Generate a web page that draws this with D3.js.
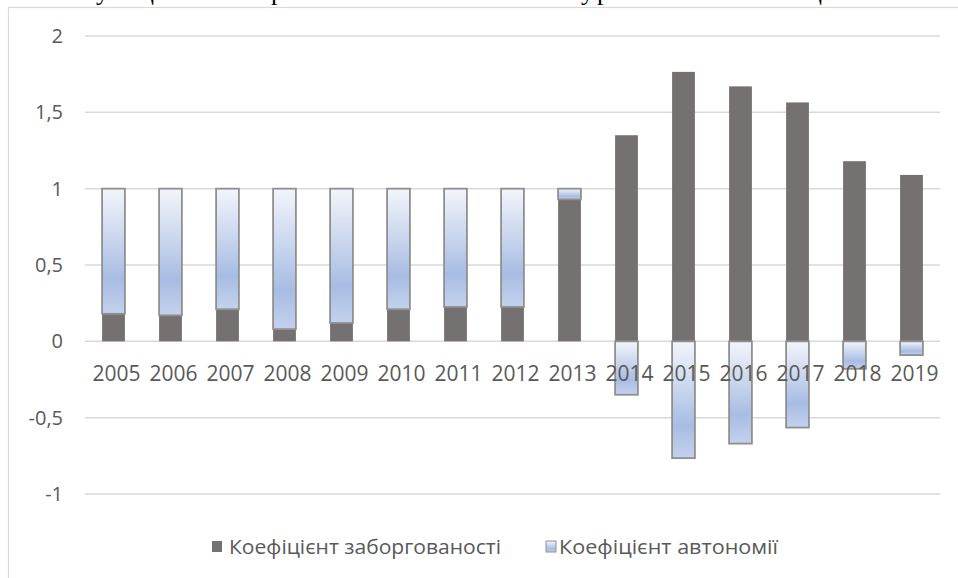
<!DOCTYPE html>
<html>
<head>
<meta charset="utf-8">
<script src="https://cdn.jsdelivr.net/npm/d3@7"></script>
<style>
  body { margin: 0; background: #fff; }
  svg { display: block; }
</style>
</head>
<body>
<script>
// chart data
var years = ["2005","2006","2007","2008","2009","2010","2011","2012","2013","2014","2015","2016","2017","2018","2019"];
var debtRatio = [0.18, 0.17, 0.21, 0.08, 0.12, 0.21, 0.225, 0.225, 0.93, 1.35, 1.765, 1.67, 1.565, 1.18, 1.09];
var autonomyRatio = [0.82, 0.83, 0.79, 0.92, 0.88, 0.79, 0.775, 0.775, 0.07, -0.35, -0.765, -0.67, -0.565, -0.18, -0.09];
var seriesNames = ["Коефіцієнт заборгованості", "Коефіцієнт автономії"];
var yTicks = [-1, -0.5, 0, 0.5, 1, 1.5, 2];

var W = 958, H = 578;
var margin = {top: 36, right: 18, bottom: 84, left: 85},
    width = W - margin.left - margin.right,
    height = 458;

var svg = d3.select("body").append("svg")
    .attr("width", W)
    .attr("height", H);

// clipped heading line from the page above the chart
var headGlyphs = [["у", 96], ["ц", 140], ["р", 271], ["у", 581], ["р", 597], ["ц", 808]];
svg.selectAll("text.head")
  .data(headGlyphs)
  .enter().append("text")
    .attr("class", "head")
    .attr("x", function(d) { return d[1]; })
    .attr("y", 0)
    .style("font-family", "Liberation Serif")
    .style("font-size", "26px")
    .style("fill", "#000")
    .text(function(d) { return d[0]; });

// chart frame
svg.append("rect")
    .attr("x", 8.5).attr("y", 7.5)
    .attr("width", W + 20).attr("height", H + 20)
    .style("fill", "#fff")
    .style("stroke", "#d9d9d9")
    .style("stroke-width", 1.2);

var defs = svg.append("defs");
var grad = defs.append("linearGradient")
    .attr("id", "autoGrad")
    .attr("x1", 0).attr("y1", 0).attr("x2", 0).attr("y2", 1);
grad.append("stop").attr("offset", "0%").attr("stop-color", "#f3f5fb");
grad.append("stop").attr("offset", "72%").attr("stop-color", "#a8bde3");
grad.append("stop").attr("offset", "100%").attr("stop-color", "#c3d1ed");

var g = svg.append("g")
    .attr("transform", "translate(" + margin.left + "," + margin.top + ")");

// scales
var x = d3.scaleBand().domain(years).range([0, width]).paddingInner(0.6).paddingOuter(0.3);
var y = d3.scaleLinear().domain([-1, 2]).range([height, 0]);

// gridlines
g.selectAll("line.grid")
  .data(yTicks)
  .enter().append("line")
    .attr("class", "grid")
    .attr("x1", 0).attr("x2", width)
    .attr("y1", function(d) { return y(d); })
    .attr("y2", function(d) { return y(d); })
    .style("stroke", "#d9d9d9")
    .style("stroke-width", 1.5);

// y axis labels
var fmt = function(d) { return String(d).replace(".", ","); };
var yAxis = g.append("g")
    .call(d3.axisLeft(y).tickValues(yTicks).tickFormat(fmt).tickSize(0).tickPadding(22));
yAxis.select(".domain").remove();
yAxis.selectAll("text")
    .style("font-family", "Open Sans")
    .style("font-size", "20px")
    .style("fill", "#595959");

// stacked data
var rows = years.map(function(yr, i) {
  return {year: yr, debt: debtRatio[i], auto: autonomyRatio[i]};
});
var stack = d3.stack().keys(["debt", "auto"]).offset(d3.stackOffsetDiverging);
var layers = stack(rows);

// debt bars
g.selectAll("rect.debt")
  .data(layers[0])
  .enter().append("rect")
    .attr("class", "debt")
    .attr("x", function(d) { return x(d.data.year); })
    .attr("width", x.bandwidth())
    .attr("y", function(d) { return y(d[1]); })
    .attr("height", function(d) { return y(d[0]) - y(d[1]); })
    .style("fill", "#767171");

// autonomy bars
g.selectAll("rect.auto")
  .data(layers[1])
  .enter().append("rect")
    .attr("class", "auto")
    .attr("x", function(d) { return x(d.data.year); })
    .attr("width", x.bandwidth())
    .attr("y", function(d) { return y(Math.max(d[0], d[1])); })
    .attr("height", function(d) { return Math.abs(y(d[0]) - y(d[1])); })
    .style("fill", "url(#autoGrad)")
    .style("stroke", "#8f8f8f")
    .style("stroke-width", 1.8);

// x axis labels at zero line
var xAxis = g.append("g")
    .attr("transform", "translate(0," + y(0) + ")")
    .call(d3.axisBottom(x).tickSize(0).tickPadding(25));
xAxis.select(".domain").remove();
xAxis.selectAll("text")
    .attr("dx", 3)
    .style("font-family", "Open Sans")
    .style("font-size", "21px")
    .style("fill", "#595959");

// legend
var legend = [
  {name: seriesNames[0], sx: 212, tx: 229, tw: 272, fill: "#767171", stroke: "none"},
  {name: seriesNames[1], sx: 546, tx: 559, tw: 219, fill: "url(#autoGrad)", stroke: "#8f8f8f"}
];
var lg = svg.append("g");
lg.selectAll("rect")
  .data(legend)
  .enter().append("rect")
    .attr("x", function(d) { return d.sx; })
    .attr("y", 541)
    .attr("width", 10).attr("height", 11)
    .style("fill", function(d) { return d.fill; })
    .style("stroke", function(d) { return d.stroke; })
    .style("stroke-width", 1);
lg.selectAll("text")
  .data(legend)
  .enter().append("text")
    .attr("x", function(d) { return d.tx; })
    .attr("y", 554)
    .attr("textLength", function(d) { return d.tw; })
    .attr("lengthAdjust", "spacingAndGlyphs")
    .style("font-family", "Open Sans")
    .style("font-size", "20px")
    .style("fill", "#595959")
    .text(function(d) { return d.name; });
</script>
</body>
</html>
